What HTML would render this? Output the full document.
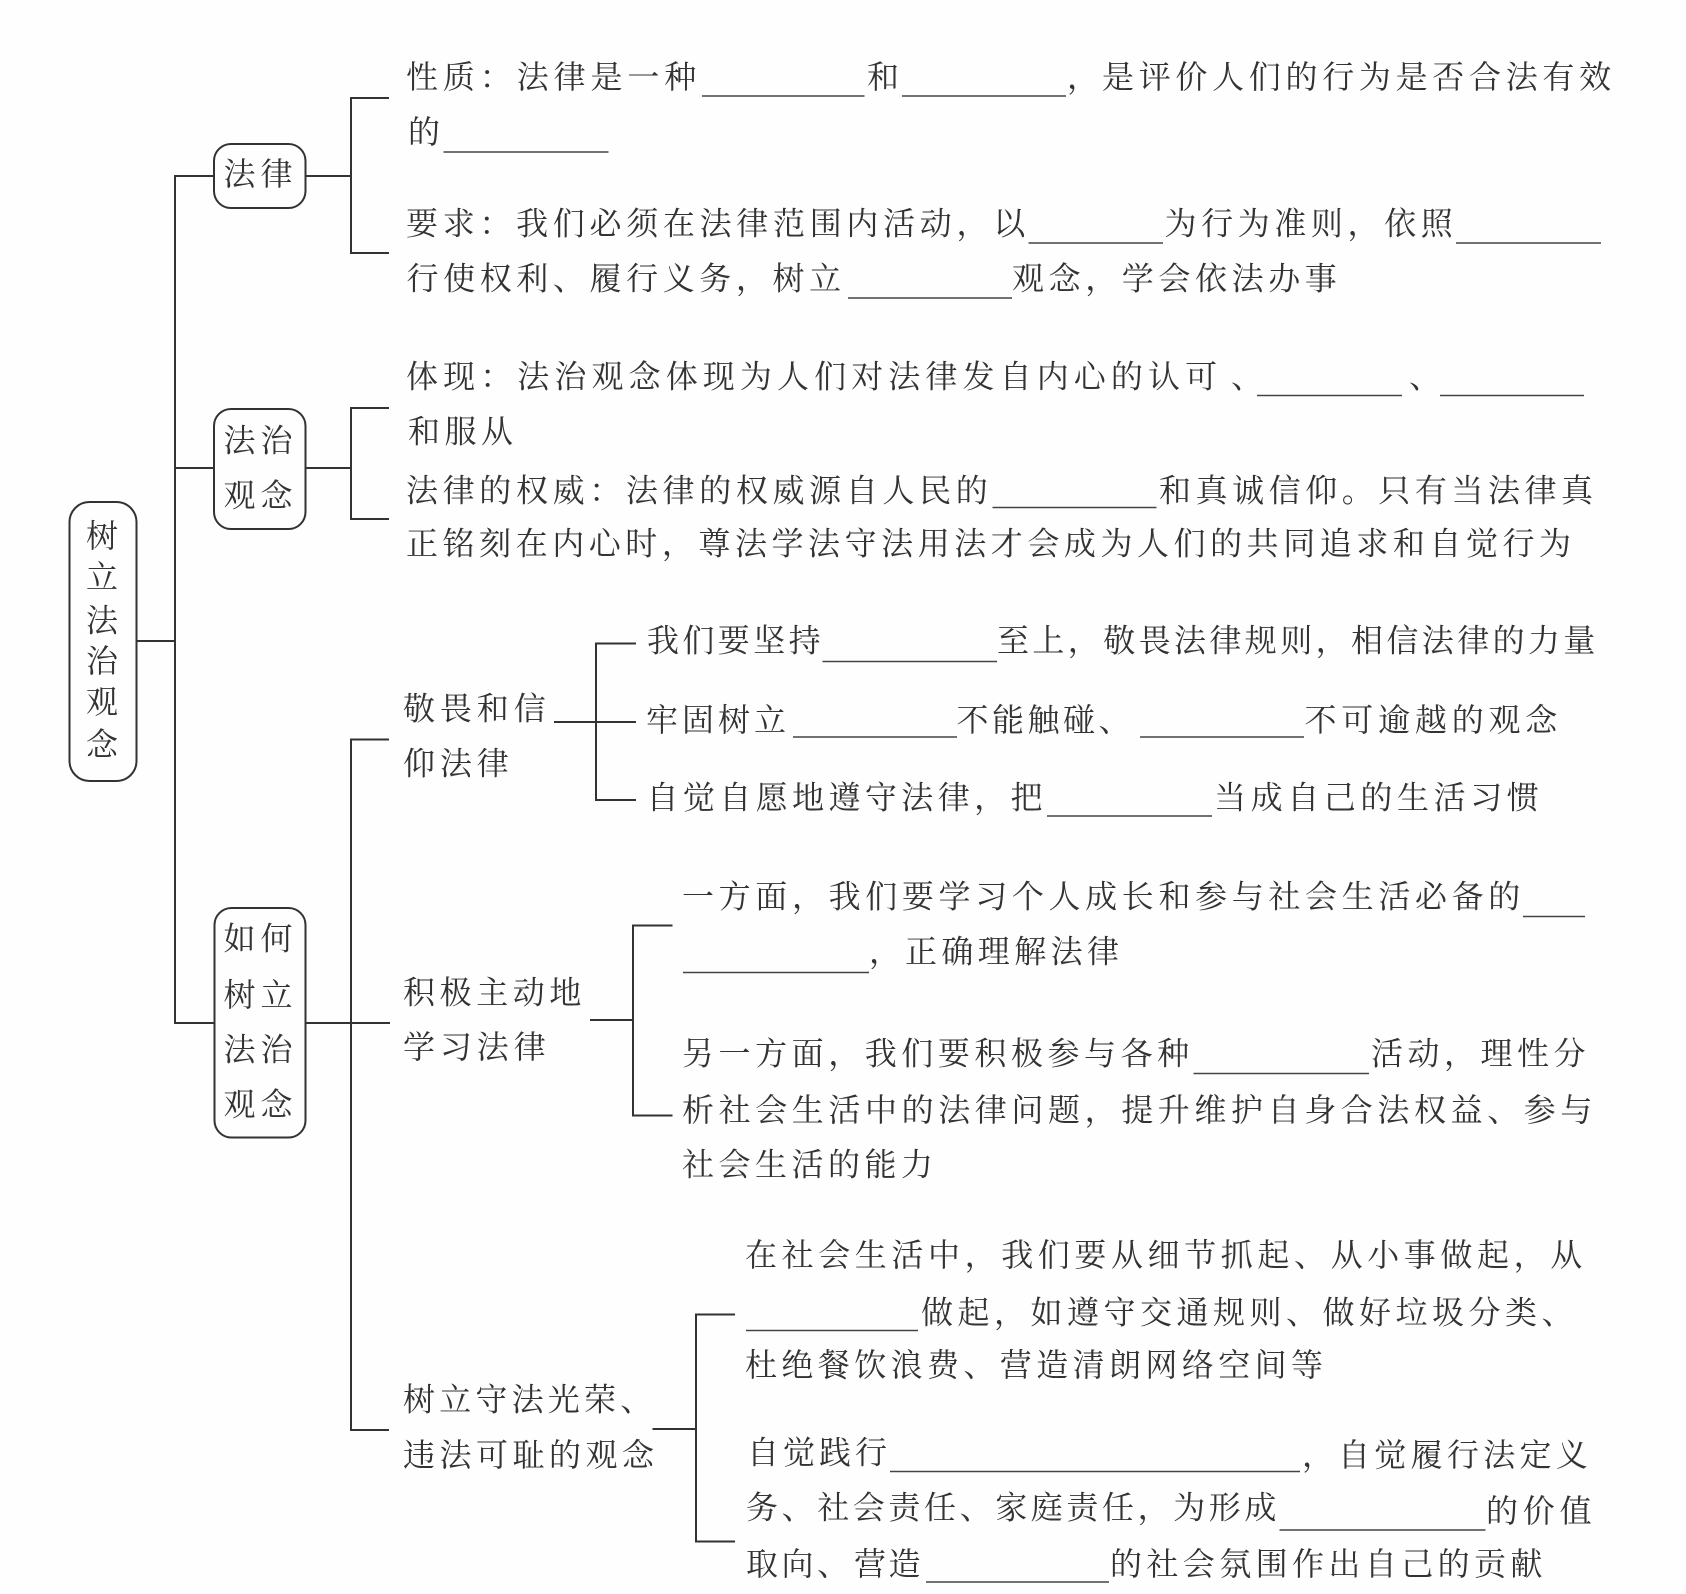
<!DOCTYPE html>
<html lang="zh"><head><meta charset="utf-8"><title>树立法治观念</title>
<style>
html,body{margin:0;padding:0;background:#fefefe;width:1686px;height:1594px;overflow:hidden}
svg{display:block}
text{font-family:"Noto Serif CJK SC","Noto Serif CJK JP",serif;font-size:32px;font-weight:400;fill:#333;letter-spacing:4.2px}
.l{stroke:#333;stroke-width:2;fill:none}
.u{stroke:#444;stroke-width:1.5;fill:none}
</style></head><body>
<svg width="1686" height="1594" viewBox="0 0 1686 1594" xmlns="http://www.w3.org/2000/svg">
<!-- boxes -->
<rect class="l" x="69.5" y="502" width="67" height="279" rx="20"/>
<rect class="l" x="214" y="144" width="91.5" height="64" rx="17"/>
<rect class="l" x="214" y="409" width="91.5" height="120" rx="17"/>
<rect class="l" x="214.500" y="908" width="91" height="229.500" rx="17"/>
<!-- connectors -->
<path class="l" d="M137 641H175M213 176H175V1023H214"/>
<path class="l" d="M175 468H214"/>
<path class="l" d="M305.500 176H351M389 98H351V253H389"/>
<path class="l" d="M305.500 468H351M389 408H351V519H389"/>
<path class="l" d="M305.500 1023H390M389 739.500H351V1430H389"/>
<path class="l" d="M554 722H636M636 643.500H596V800H636"/>
<path class="l" d="M590 1020H633M672.500 925.500H633V1115.500H672.500"/>
<path class="l" d="M652.500 1429H696M735 1314.500H696V1541.500H735"/>
<!-- underlines -->
<path class="u" d="M702 96H864.500M902 96H1066M443.500 152H608.500M1028.500 243H1163M1456 243H1601M848 298H1012M1257 395.500H1402M1440 395.500H1584M992.500 507.500H1156.500M822.500 661.500H997M793 737H957M1140 737H1304M1047 816H1212M1523 916.500H1585M683 972.500H869M1193.500 1073.500H1369M746 1330.500H918M890 1471.500H1300M1279.500 1530H1485.500M926 1582H1109"/>
<!-- root text -->
<text x="86" y="547">树</text><text x="86" y="588">立</text><text x="86" y="631.500">法</text><text x="86" y="672">治</text><text x="86" y="713">观</text><text x="86" y="755.500">念</text>
<!-- box text -->
<text x="223.500" y="185" style="letter-spacing:5px">法律</text>
<text x="223.500" y="451.500" style="letter-spacing:5px">法治</text><text x="223.500" y="506.500" style="letter-spacing:5px">观念</text>
<text x="223.500" y="949.500" style="letter-spacing:5px">如何</text><text x="223.500" y="1006" style="letter-spacing:5px">树立</text><text x="223.500" y="1060.500" style="letter-spacing:5px">法治</text><text x="223.500" y="1115.500" style="letter-spacing:5px">观念</text>
<!-- section 1 -->
<text x="406" y="88" style="letter-spacing:4.900px">性质：法律是一种</text>
<text x="867" y="88">和</text>
<text x="1067" y="88">，</text>
<text x="1102" y="88" style="letter-spacing:4.700px">是评价人们的行为是否合法有效</text>
<text x="408" y="143">的</text>
<text x="406" y="234.500" style="letter-spacing:4.700px">要求：我们必须在法律范围内活动，以</text>
<text x="1164.500" y="234.500" style="letter-spacing:4.600px">为行为准则，依照</text>
<text x="406.500" y="289.500" style="letter-spacing:4.600px">行使权利、履行义务，树立</text>
<text x="1012" y="289.500" style="letter-spacing:4.600px">观念，学会依法办事</text>
<!-- section 2 -->
<text x="406" y="387.500" style="letter-spacing:5.100px">体现：法治观念体现为人们对法律发自内心的认可</text>
<text x="1231" y="387.500">、</text>
<text x="1409" y="387.500">、</text>
<text x="408" y="442.500" style="letter-spacing:4.500px">和服从</text>
<text x="406" y="501.500" style="letter-spacing:4.650px">法律的权威：法律的权威源自人民的</text>
<text x="1159" y="501.500" style="letter-spacing:4.550px">和真诚信仰。只有当法律真</text>
<text x="406" y="554.500" style="letter-spacing:4.550px">正铭刻在内心时，尊法学法守法用法才会成为人们的共同追求和自觉行为</text>
<!-- section 3 -->
<text x="403" y="719.500" style="letter-spacing:4.900px">敬畏和信</text>
<text x="403" y="774.500" style="letter-spacing:4.900px">仰法律</text>
<text x="647" y="651.500" style="letter-spacing:3.400px">我们要坚持</text>
<text x="997" y="651.500" style="letter-spacing:3.400px">至上，敬畏法律规则，相信法律的力量</text>
<text x="646" y="731" style="letter-spacing:4px">牢固树立</text>
<text x="956.500" y="731" style="letter-spacing:3.500px">不能触碰、</text>
<text x="1304.500" y="731" style="letter-spacing:4.800px">不可逾越的观念</text>
<text x="646.500" y="808.500" style="letter-spacing:4.400px">自觉自愿地遵守法律，把</text>
<text x="1214" y="808.500" style="letter-spacing:4.600px">当成自己的生活习惯</text>
<!-- section 4 -->
<text x="403" y="1003.500" style="letter-spacing:4.600px">积极主动地</text>
<text x="403" y="1058" style="letter-spacing:4.900px">学习法律</text>
<text x="682" y="907.500" style="letter-spacing:4.650px">一方面，我们要学习个人成长和参与社会生活必备的</text>
<text x="869" y="962.500">，</text>
<text x="905" y="962.500" style="letter-spacing:4.400px">正确理解法律</text>
<text x="682" y="1064.500" style="letter-spacing:4.550px">另一方面，我们要积极参与各种</text>
<text x="1371" y="1064.500" style="letter-spacing:4.500px">活动，理性分</text>
<text x="682" y="1121" style="letter-spacing:4.600px">析社会生活中的法律问题，提升维护自身合法权益、参与</text>
<text x="682" y="1175.500" style="letter-spacing:4.500px">社会生活的能力</text>
<!-- section 5 -->
<text x="403" y="1410.500" style="letter-spacing:4.200px">树立守法光荣、</text>
<text x="403" y="1466" style="letter-spacing:4.500px">违法可耻的观念</text>
<text x="745" y="1266" style="letter-spacing:4.600px">在社会生活中，我们要从细节抓起、从小事做起，从</text>
<text x="921" y="1323.500" style="letter-spacing:4.500px">做起，如遵守交通规则、做好垃圾分类、</text>
<text x="745" y="1376" style="letter-spacing:4.400px">杜绝餐饮浪费、营造清朗网络空间等</text>
<text x="747" y="1463.500" style="letter-spacing:4px">自觉践行</text>
<text x="1302" y="1466">，</text>
<text x="1338" y="1466" style="letter-spacing:4.300px">自觉履行法定义</text>
<text x="746" y="1518.500" style="letter-spacing:3.600px">务、社会责任、家庭责任，为形成</text>
<text x="1486" y="1522" style="letter-spacing:4.800px">的价值</text>
<text x="746" y="1575" style="letter-spacing:3.500px">取向、</text>
<text x="854" y="1575" style="letter-spacing:2.500px">营造</text>
<text x="1110" y="1575" style="letter-spacing:4.400px">的社会氛围作出自己的贡献</text>
</svg>
</body></html>
